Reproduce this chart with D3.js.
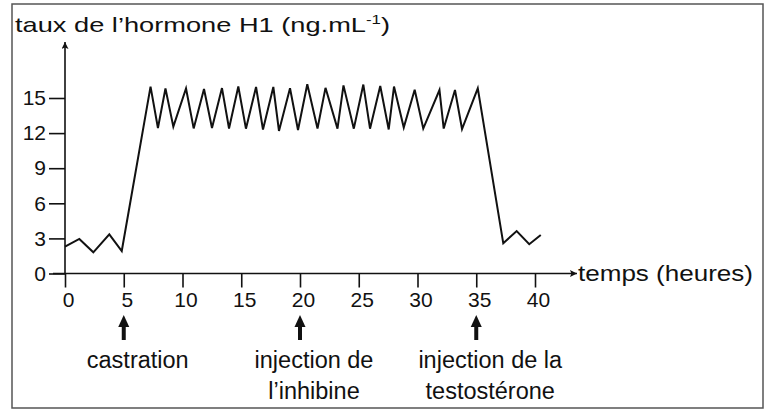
<!DOCTYPE html>
<html>
<head>
<meta charset="utf-8">
<script src="https://cdn.jsdelivr.net/npm/d3@7"></script>
<style>
  body { margin: 0; background: #fff; }
  svg text { font-family: "Liberation Sans", Arial, sans-serif; fill: #111; }
</style>
</head>
<body>
<script>
'use strict';

// time (hours) of each vertex of the curve
const hours = [0, 1.22, 2.41, 3.77, 4.83,
  7.28, 7.91, 8.55, 9.22, 10.30, 10.95, 11.83, 12.51, 13.36, 13.96,
  14.75, 15.40, 16.26, 16.85, 17.73, 18.21, 19.15, 19.83, 20.62, 21.49,
  22.17, 23.19, 23.70, 24.58, 25.39, 25.96, 26.83, 27.55, 28.00, 28.83,
  29.76, 30.49, 31.87, 32.23, 33.19, 33.79, 35.13,
  37.30, 38.44, 39.51, 40.49];

// hormone H1 level (ng/mL) at each vertex
const levels = [2.29, 2.95, 1.81, 3.35, 1.92,
  15.97, 12.44, 15.81, 12.55, 15.81, 12.40, 15.77, 12.44, 15.85, 12.39,
  15.98, 12.38, 15.94, 12.31, 15.94, 12.18, 15.83, 12.26, 16.18, 12.39,
  15.87, 12.38, 16.08, 12.38, 16.15, 12.38, 16.03, 12.31, 15.98, 12.48,
  15.71, 12.39, 15.68, 12.39, 15.68, 12.35, 15.83,
  2.58, 3.63, 2.50, 3.29];

const xTicks = [0, 5, 10, 15, 20, 25, 30, 35, 40];
const yTicks = [0, 3, 6, 9, 12, 15];

// experimental events marked under the time axis
const eventHours = [5, 20, 35];
const eventLabels = [
  ["castration"],
  ["injection de", "l\u2019inhibine"],
  ["injection de la", "testost\u00e9rone"]
];

(function () {
  const svg = d3.select('body')
    .append('svg')
    .attr('width', 768)
    .attr('height', 412);

  // frame round the figure
  svg.append('rect')
    .attr('x', 12).attr('y', 4)
    .attr('width', 751).attr('height', 404)
    .attr('fill', '#fff')
    .attr('stroke', '#555')
    .attr('stroke-width', 1.5);

  const x = d3.scaleLinear().domain([0, 40]).range([65, 535]);
  const y = d3.scaleLinear().domain([0, 15]).range([273.5, 98]);

  // arrow heads for the axes
  const defs = svg.append('defs');
  defs.append('marker')
    .attr('id', 'head')
    .attr('viewBox', '0 0 10 10')
    .attr('refX', 10).attr('refY', 5)
    .attr('markerWidth', 10).attr('markerHeight', 7)
    .attr('markerUnits', 'userSpaceOnUse')
    .attr('orient', 'auto')
    .append('path')
    .attr('d', 'M0,0L10,5L0,10L2,5Z')
    .attr('fill', '#111');

  // x axis ticks and labels
  const xAxis = d3.axisBottom(x)
    .tickValues(xTicks)
    .tickSize(14)
    .tickSizeOuter(0)
    .tickPadding(5);
  const gx = svg.append('g')
    .attr('transform', 'translate(0,' + y(0) + ')')
    .call(xAxis);
  gx.select('.domain').remove();
  gx.selectAll('line').attr('stroke', '#111').attr('stroke-width', 1.6);
  gx.selectAll('text')
    .attr('dx', 3)
    .style('font-size', '21px')
    .style('fill', '#111');

  // y axis ticks and labels
  const yAxis = d3.axisLeft(y)
    .tickValues(yTicks)
    .tickSize(16)
    .tickSizeOuter(0)
    .tickPadding(3);
  const gy = svg.append('g')
    .attr('transform', 'translate(' + x(0) + ',0)')
    .call(yAxis);
  gy.select('.domain').remove();
  gy.selectAll('line').attr('stroke', '#111').attr('stroke-width', 1.6);
  gy.selectAll('text')
    .style('font-size', '21px')
    .style('fill', '#111');

  // axis lines with arrows
  svg.append('line')
    .attr('x1', x(0) - 12).attr('y1', y(0))
    .attr('x2', 577).attr('y2', y(0))
    .attr('stroke', '#111').attr('stroke-width', 1.6)
    .attr('marker-end', 'url(#head)');
  svg.append('line')
    .attr('x1', x(0)).attr('y1', y(0))
    .attr('x2', x(0)).attr('y2', 42)
    .attr('stroke', '#111').attr('stroke-width', 1.6)
    .attr('marker-end', 'url(#head)');

  // the curve
  const line = d3.line()
    .x((d, i) => x(hours[i]))
    .y(d => y(d));
  svg.append('path')
    .datum(levels)
    .attr('fill', 'none')
    .attr('stroke', '#111')
    .attr('stroke-width', 2)
    .attr('stroke-linejoin', 'miter')
    .attr('d', line);

  // axis titles
  const title = svg.append('text')
    .attr('x', 15)
    .attr('y', 32)
    .attr('textLength', 375)
    .attr('lengthAdjust', 'spacingAndGlyphs')
    .style('font-size', '21px');
  title.append('tspan').text('taux de l\u2019hormone H1 (ng.mL');
  title.append('tspan').attr('dy', -8).style('font-size', '13px').text('-1');
  title.append('tspan').attr('dy', 8).text(')');

  svg.append('text')
    .attr('x', 578)
    .attr('y', 281)
    .attr('textLength', 175)
    .attr('lengthAdjust', 'spacingAndGlyphs')
    .style('font-size', '22px')
    .text('temps (heures)');

  // event arrows and labels
  eventHours.forEach((h, i) => {
    const cx = x(h);
    svg.append('line')
      .attr('x1', cx).attr('y1', 340)
      .attr('x2', cx).attr('y2', 324)
      .attr('stroke', '#111').attr('stroke-width', 4);
    svg.append('path')
      .attr('d', d3.line()([[cx - 5.5, 327], [cx, 315], [cx + 5.5, 327]]) + 'Z')
      .attr('fill', '#111');
    eventLabels[i].forEach((t, j) => {
      svg.append('text')
        .attr('x', cx + 14)
        .attr('y', 368 + j * 31)
        .attr('text-anchor', 'middle')
        .style('font-size', '23.5px')
        .text(t);
    });
  });
})();
</script>
</body>
</html>
